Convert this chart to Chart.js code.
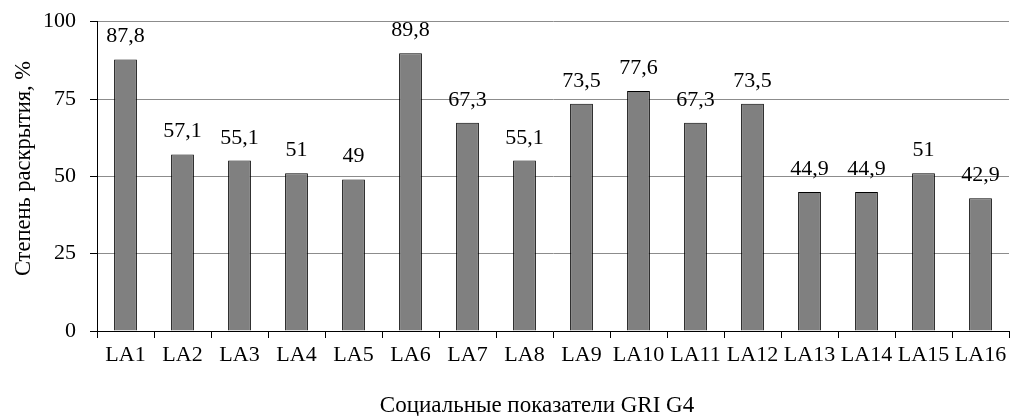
<!DOCTYPE html>
<html><head><meta charset="utf-8">
<script src="https://cdn.jsdelivr.net/npm/chart.js@4/dist/chart.umd.min.js"></script>
<style>html,body{margin:0;padding:0;background:#fff}#wrap{width:1010px;height:416px}</style>
</head><body><div id="wrap"><canvas id="c" width="1010" height="416"></canvas></div>
<script>
const categories = ["LA1","LA2","LA3","LA4","LA5","LA6","LA7","LA8","LA9","LA10","LA11","LA12","LA13","LA14","LA15","LA16"];
const values = [87.8,57.1,55.1,51,49,89.8,67.3,55.1,73.5,77.6,67.3,73.5,44.9,44.9,51,42.9];
const yTicks = [0,25,50,75,100];
const xTitle = "Социальные показатели GRI G4";
const yTitle = "Степень раскрытия, %";
const FONT = "'Liberation Serif','Times New Roman',serif";

const labelPlugin = {
  id:'valueLabels',
  afterDatasetsDraw(chart){
    const ctx = chart.ctx;
    const meta = chart.getDatasetMeta(0);
    ctx.save();
    ctx.font = "22px " + FONT;
    ctx.fillStyle = "#000";
    ctx.textAlign = "center";
    ctx.textBaseline = "alphabetic";
    meta.data.forEach((bar,i)=>{
      const txt = String(values[i]).replace('.',',');
      ctx.fillText(txt, bar.x, bar.y - 17);
    });
    ctx.font = "23px " + FONT;
    ctx.fillText(xTitle, 537, 412);
    ctx.translate(29.5, 168.5);
    ctx.rotate(-Math.PI/2);
    ctx.font = "22.5px " + FONT;
    ctx.fillText(yTitle, 0, 0);
    ctx.restore();
  }
};

new Chart(document.getElementById('c'), {
  type:'bar',
  data:{labels:categories,datasets:[{data:values,backgroundColor:'#808080',borderColor:'#000',borderWidth:1,barPercentage:0.8,categoryPercentage:0.5}]},
  options:{
    responsive:false,animation:false,
    layout:{padding:{top:21.7,right:1,left:0,bottom:0}},
    plugins:{legend:{display:false},tooltip:{enabled:false}},
    scales:{
      x:{
        afterFit:s=>{s.height=85;s.paddingLeft=0;s.paddingRight=0;},
        grid:{drawOnChartArea:false,tickLength:7,color:'#000',offset:true},
        border:{color:'#000',width:1},
        ticks:{color:'#000',font:{family:FONT,size:22},autoSkip:false,maxRotation:0,minRotation:0,padding:4}
      },
      y:{
        min:0,max:100,
        afterFit:s=>{s.width=97;s.paddingTop=0;s.paddingBottom=0;},
        afterBuildTicks:s=>{s.ticks=yTicks.map(v=>({value:v}));},
        grid:{color:'#8c8c8c',tickLength:7,tickColor:'#000',drawTicks:true},
        border:{color:'#000',width:1},
        ticks:{color:'#000',font:{family:FONT,size:22},padding:14}
      }
    }
  },
  plugins:[labelPlugin]
});
</script></body></html>
